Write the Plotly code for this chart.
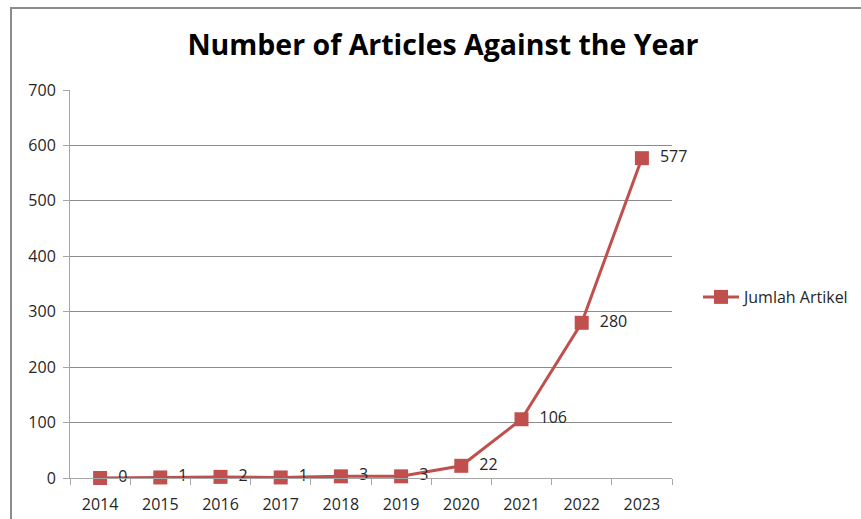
import plotly.graph_objects as go

years = ["2014", "2015", "2016", "2017", "2018", "2019", "2020", "2021", "2022", "2023"]
articles = [0, 1, 2, 1, 3, 3, 22, 106, 280, 577]
series_name = "Jumlah Artikel"
title_text = "Number of Articles Against the Year"
ytick_vals = [0, 100, 200, 300, 400, 500, 600, 700]

W, H = 861, 519
L, R, T, B = 70, 672, 90, 478
pw, ph = R - L, B - T

red = "#C0504D"
font = "Open Sans"
fs = 16

fig = go.Figure()
fig.add_trace(go.Scatter(
    x=years, y=articles, name=series_name,
    mode="lines+markers+text",
    line=dict(color=red, width=3),
    marker=dict(symbol="square", size=14, color=red),
    text=["\u00a0\u00a0" + str(v) for v in articles],
    textposition="middle right",
    textfont=dict(family=font, size=fs, color="#262626"),
    cliponaxis=False,
))

fig.update_layout(
    width=W, height=H,
    margin=dict(l=L, r=W - R, t=T, b=H - B, autoexpand=False),
    paper_bgcolor="white", plot_bgcolor="white",
    font=dict(family=font, size=fs, color="#262626"),
    title=dict(text="<b>" + title_text + "</b>", x=443 / W, xanchor="center",
               y=1 - 45 / H, yanchor="middle",
               font=dict(family=font, size=28.5, color="black")),
    showlegend=True,
    legend=dict(xref="container", yref="container",
                x=698 / W, y=1 - 297 / H, xanchor="left", yanchor="middle",
                font=dict(family=font, size=fs, color="#262626"),
                itemwidth=36, bgcolor="rgba(0,0,0,0)"),
    xaxis=dict(type="category", tickson="boundaries", ticks="outside", ticklen=6,
               tickcolor="#A6A6A6", showline=True, linecolor="#A6A6A6", linewidth=1,
               showgrid=False, range=[-0.5, 9.5], fixedrange=True,
               ticklabelstandoff=12, automargin=False,
               tickfont=dict(family=font, size=fs, color="#262626")),
    yaxis=dict(range=[0, 700], tickvals=ytick_vals, ticks="outside", ticklen=6,
               tickcolor="#A6A6A6", showline=True, linecolor="#A6A6A6", linewidth=1,
               showgrid=True, gridcolor="#8C8C8C", gridwidth=1, zeroline=False,
               ticklabelstandoff=4, automargin=False,
               tickfont=dict(family=font, size=fs, color="#262626")),
)

fig.add_shape(type="rect", xref="paper", yref="paper",
              x0=(11 - L) / pw, x1=(900 - L) / pw,
              y0=(B - 560) / ph, y1=(B - 8) / ph,
              line=dict(color="#8C8C8C", width=2), fillcolor="rgba(0,0,0,0)", layer="below")

fig.write_html("out.html")
